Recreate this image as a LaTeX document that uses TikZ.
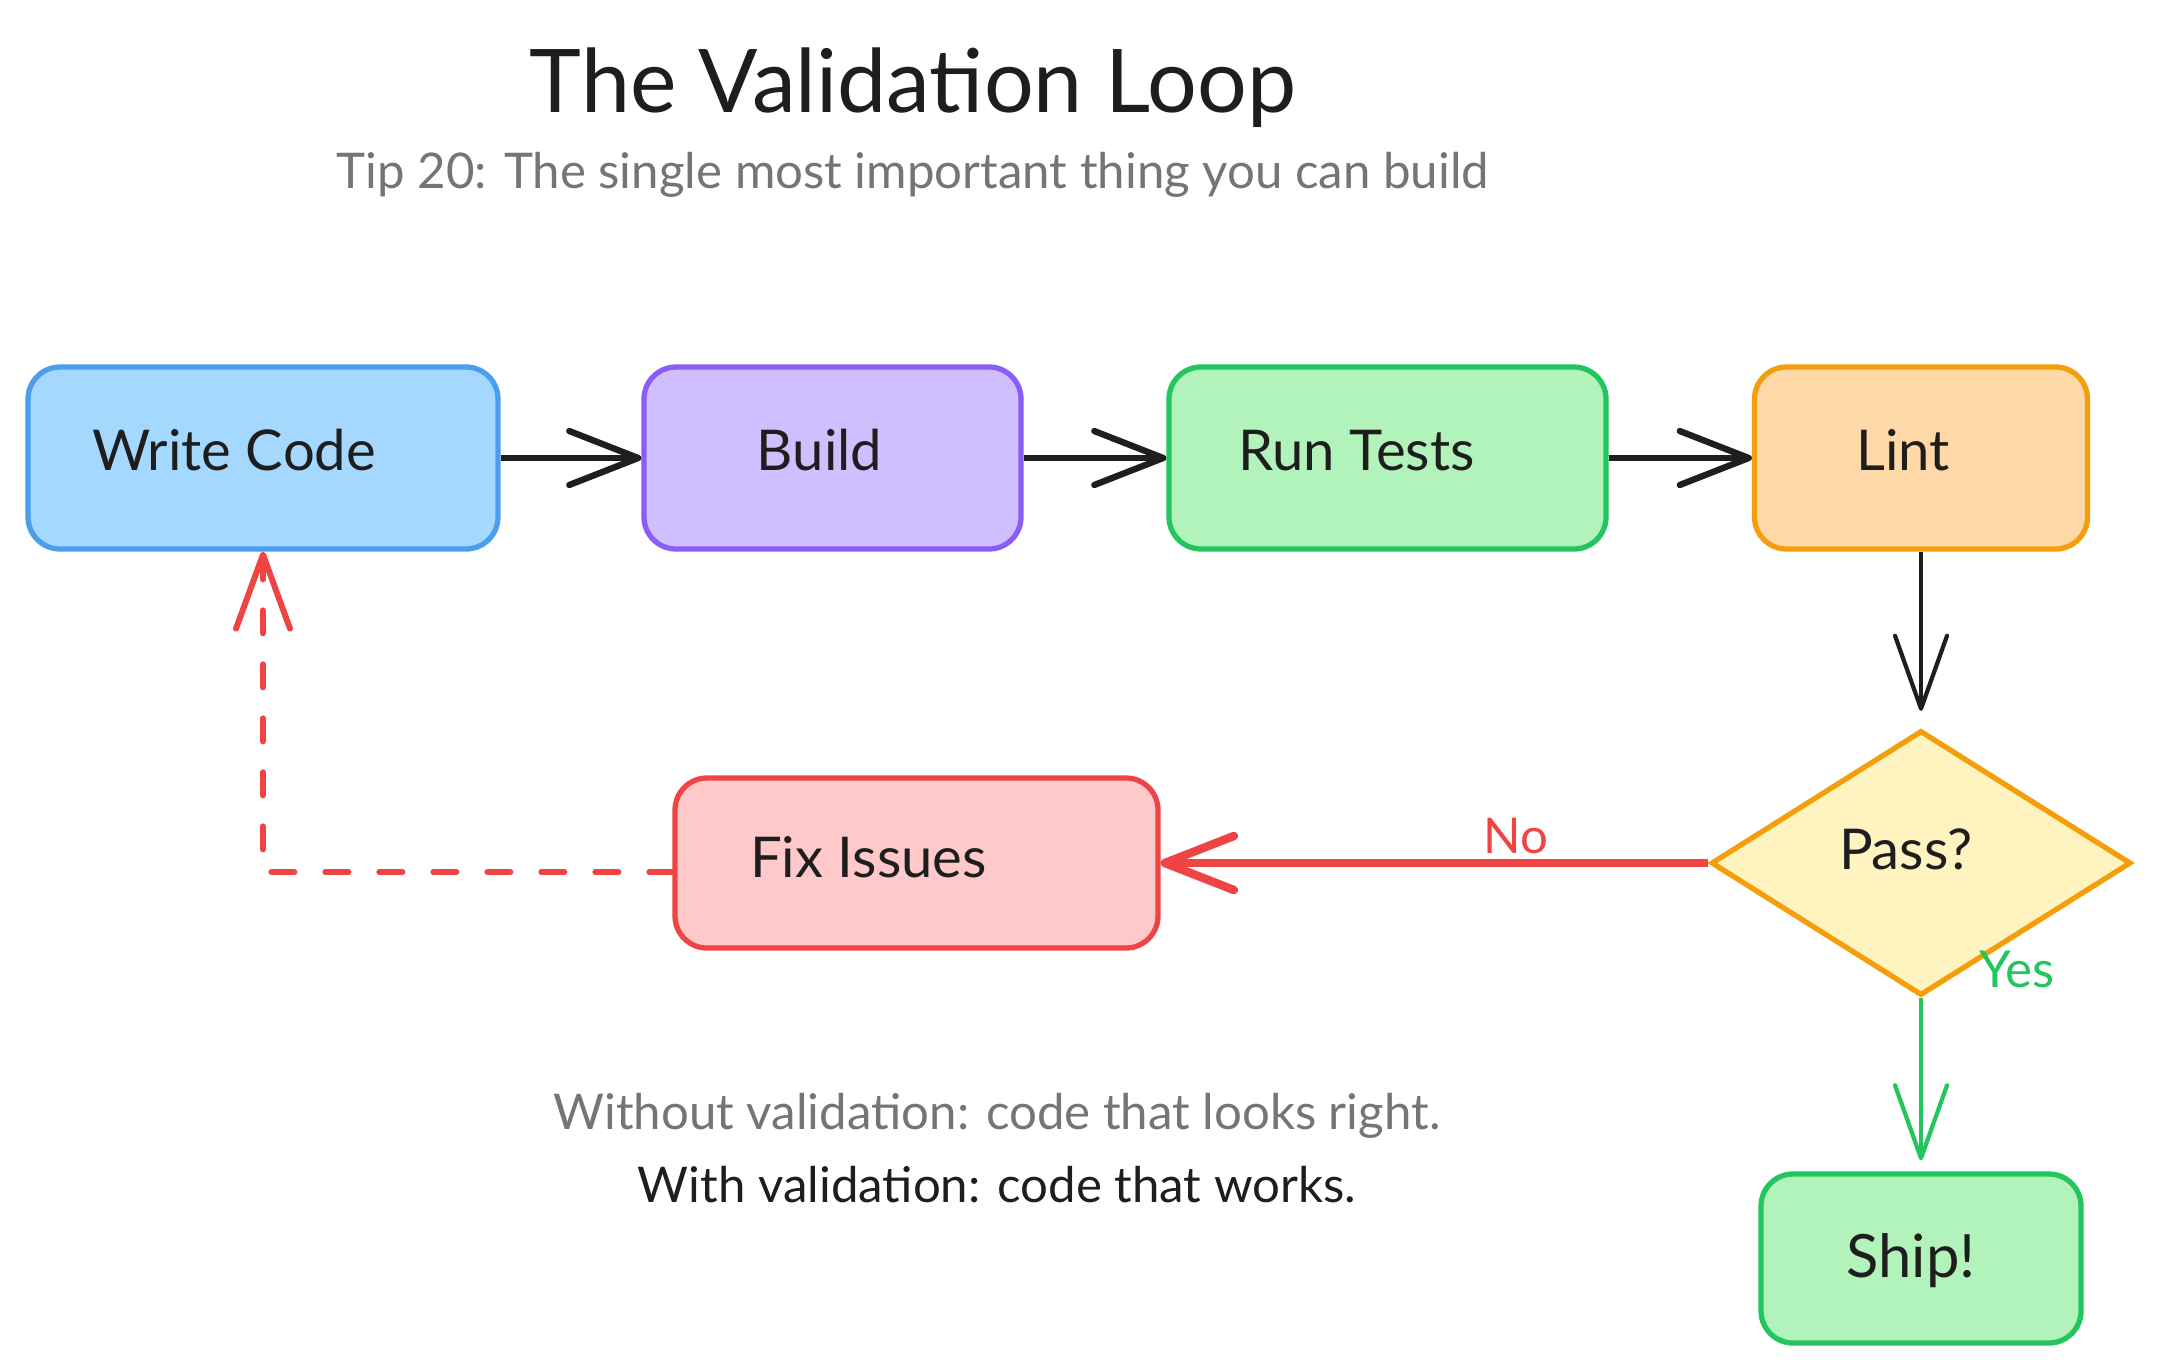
\documentclass[tikz,border=0pt]{standalone}
\usepackage{fontspec}
\setmainfont{Lato}
\usetikzlibrary{shapes.geometric,arrows.meta}
\definecolor{ink}{HTML}{1E1E1E}
\definecolor{muted}{HTML}{757575}
\definecolor{bluefill}{HTML}{A5D8FF}
\definecolor{bluedraw}{HTML}{4A9EED}
\definecolor{violetfill}{HTML}{D0BFFF}
\definecolor{violetdraw}{HTML}{8B5CF6}
\definecolor{greenfill}{HTML}{B2F2BB}
\definecolor{greendraw}{HTML}{22C55E}
\definecolor{orangefill}{HTML}{FFD8A8}
\definecolor{orangedraw}{HTML}{F59E0B}
\definecolor{yellowfill}{HTML}{FFF3BF}
\definecolor{redfill}{HTML}{FFC9C9}
\definecolor{reddraw}{HTML}{EF4444}

\begin{document}
\begin{tikzpicture}[
	box/.style={draw=#1draw,fill=#1fill,line width=1.5pt,rounded corners=0.32cm,minimum height=1.82cm},
	boxtext/.style={font=\fontsize{16}{19}\selectfont,text=ink,text height=0.41cm,text depth=0cm,inner sep=0pt},
	flow/.style={line width=1.8pt,-{Straight Barb[length=0.69cm,width=0.54cm,round]}},
	thinflow/.style={line width=1.2pt,-{Straight Barb[length=0.73cm,width=0.52cm,round]}},
	caption/.style={font=\fontsize{14}{17}\selectfont,anchor=base},
]
\fill[white] (0,0) rectangle (21.6,-13.71);
\useasboundingbox (0,0) rectangle (21.6,-13.71);

\node[font=\fontsize{25}{30}\selectfont,text=ink,anchor=base] (title) at (9.13,-1.12) {The Validation Loop};
\node[caption,text=muted] (subtitle) at (9.13,-1.88) {Tip 20: The single most important thing you can build};

\node[box=blue,minimum width=4.70cm,label={[boxtext,xshift=-0.29cm,yshift=0.085cm]center:Write Code}] (write) at (2.63,-4.58) {};
\node[box=violet,minimum width=3.77cm,label={[boxtext,xshift=-0.13cm,yshift=0.085cm]center:Build}] (build) at (8.325,-4.58) {};
\node[box=green,minimum width=4.37cm,label={[boxtext,xshift=-0.31cm,yshift=0.085cm]center:Run Tests}] (tests) at (13.875,-4.58) {};
\node[box=orange,minimum width=3.33cm,label={[boxtext,xshift=-0.18cm,yshift=0.085cm]center:Lint}] (lint) at (19.21,-4.58) {};

\node[diamond,draw=orangedraw,fill=yellowfill,line width=1.5pt,minimum width=4.2cm,minimum height=2.65cm,inner sep=0pt,
	label={[boxtext,xshift=-0.15cm,yshift=0.14cm]center:Pass?}] (pass) at (19.21,-8.63) {};
\node[box=red,minimum width=4.83cm,minimum height=1.70cm,label={[boxtext,xshift=-0.48cm,yshift=0.06cm]center:Fix Issues}] (fix) at (9.165,-8.63) {};
\node[box=green,minimum width=3.20cm,minimum height=1.69cm,label={[boxtext,font=\fontsize{17}{20}\selectfont,xshift=-0.1cm,yshift=0.02cm]center:Ship!}] (ship) at (19.21,-12.585) {};

\coordinate (loopin) at ([yshift=-0.09cm]fix.west);
\coordinate (loopcorner) at (write.south |- loopin);

\foreach \a/\b in {write/build,build/tests,tests/lint}{
	\draw[flow,draw=ink] (\a) -- (\b);
}
\draw[thinflow,draw=ink,shorten >=0.17cm] (lint) -- (pass);
\draw[thinflow,draw=greendraw,shorten >=0.11cm] (pass) -- (ship);
\draw[flow,draw=reddraw,line width=2.4pt] (pass.west) -- (fix.east);
\draw[reddraw,line width=1.7pt,line cap=round,dash pattern=on 0.23cm off 0.31cm,
	-{Straight Barb[length=0.74cm,width=0.54cm,round]}] (loopin) -- (loopcorner) -- (write.south);

\node[caption,text=reddraw] (no) at (15.16,-8.53) {No};
\node[caption,font=\fontsize{14.5}{17}\selectfont,text=greendraw] (yes) at (20.17,-9.87) {Yes};

\node[caption,text=muted] (without) at (9.97,-11.29) {Without validation: code that looks right.};
\node[caption,text=ink] (with) at (9.97,-12.02) {With validation: code that works.};

\end{tikzpicture}
\end{document}
